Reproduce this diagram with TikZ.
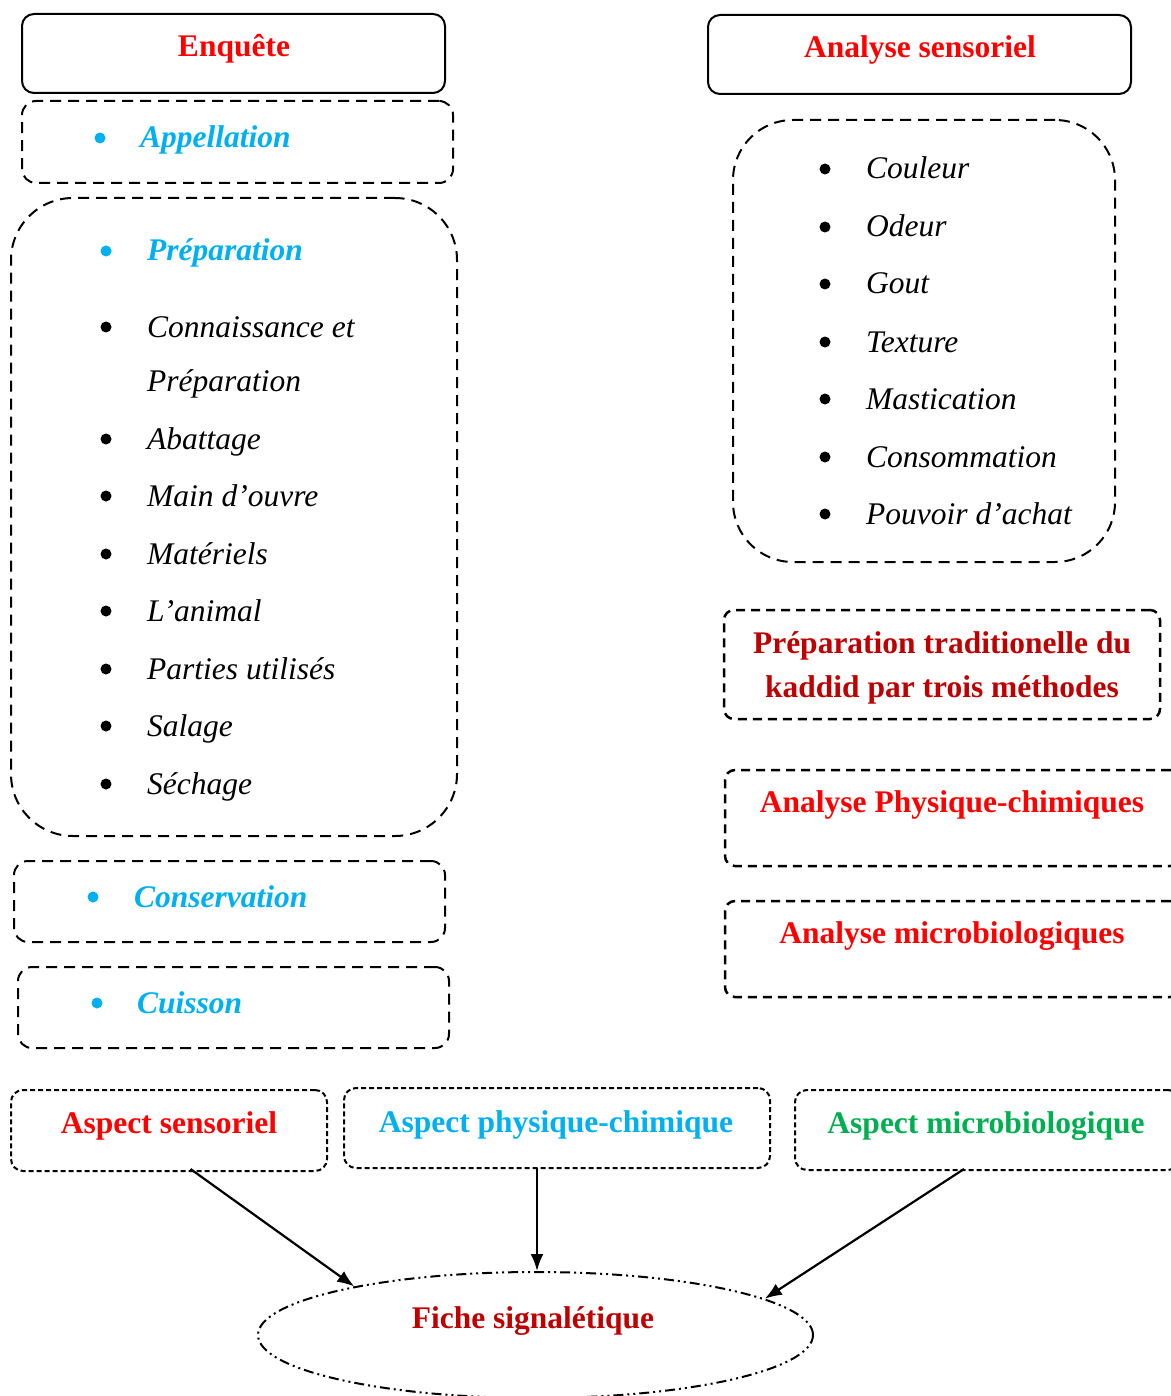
\documentclass[tikz,border=0pt]{standalone}
\usepackage{fontspec}
\setmainfont{Liberation Serif}
\usetikzlibrary{arrows.meta,calc,shapes.geometric}
\definecolor{cred}{HTML}{FF0000}
\definecolor{ccyan}{HTML}{00B0F0}
\definecolor{cdred}{HTML}{C00000}
\definecolor{cgreen}{HTML}{00B050}
\begin{document}
\begin{tikzpicture}[x=1pt,y=-1pt,
  every node/.style={font=\fontsize{31.5}{44}\selectfont, inner sep=0pt},
  solidbox/.style={draw, line width=2pt, rounded corners=12pt},
  dashbox/.style={draw, line width=2pt, rounded corners=14pt, dash pattern=on 11pt off 7pt},
  bigbox/.style={draw, line width=2pt, rounded corners=62pt, dash pattern=on 11pt off 7pt},
  rdashbox/.style={draw, line width=2.5pt, rounded corners=10pt, dash pattern=on 9pt off 6pt},
  sdashbox/.style={draw, line width=2pt, rounded corners=12pt, dash pattern=on 5pt off 3pt},
  fiche/.style={draw, ellipse, line width=2pt, dash pattern=on 10pt off 4pt on 2pt off 4pt on 2pt off 4pt},
  head/.style={anchor=base, font=\fontsize{31.5}{44}\selectfont\bfseries},
  item/.style={anchor=base west, font=\fontsize{31.5}{44}\selectfont\itshape},
  citem/.style={anchor=base west, text=ccyan, font=\fontsize{31.5}{44}\selectfont\bfseries\itshape},
  blt/.style={circle, fill=black, minimum size=11pt},
  cblt/.style={circle, fill=ccyan, minimum size=11pt},
  arr/.style={line width=2.2pt, -{Latex[length=17pt,width=13pt]}}
]
\useasboundingbox (0,0) rectangle (1170,1396);

% ---- left column ----
\node[solidbox, minimum width=423pt, minimum height=79pt] (enq) at (233.5,53.5) {};
\node[head, text=cred] (tenq) at (234,57) {Enquête};

\node[dashbox, minimum width=431pt, minimum height=82pt] (app) at (237.5,142) {};
\node[cblt] (b0) at (100,138) {};
\node[citem] (tapp) at (140,148) {Appellation};

\node[bigbox, minimum width=446pt, minimum height=638pt] (prep) at (234,517) {};
\node[cblt] (b1) at (106,251) {};
\node[citem] (tprep) at (147,261) {Préparation};
\node[blt] (b2) at (106,327) {};
\node[item] (t2) at (147,337) {Connaissance et};
\node[item] (t2b) at (147,391) {Préparation};
\node[blt] (b3) at (106,439) {};
\node[item] (t3) at (147,449) {Abattage};
\node[blt] (b4) at (106,496) {};
\node[item] (t4) at (147,506) {Main d’ouvre};
\node[blt] (b5) at (106,554) {};
\node[item] (t5) at (147,564) {Matériels};
\node[blt] (b6) at (106,611) {};
\node[item] (t6) at (147,621) {L’animal};
\node[blt] (b7) at (106,669) {};
\node[item] (t7) at (147,679) {Parties utilisés};
\node[blt] (b8) at (106,726) {};
\node[item] (t8) at (147,736) {Salage};
\node[blt] (b9) at (106,784) {};
\node[item] (t9) at (147,794) {Séchage};

\node[dashbox, minimum width=431pt, minimum height=81pt] (cons) at (229.5,901.5) {};
\node[cblt] (b10) at (93,897) {};
\node[citem] (tcons) at (134,907) {Conservation};

\node[dashbox, minimum width=431pt, minimum height=81pt] (cuis) at (233.5,1007.5) {};
\node[cblt] (b11) at (97,1003) {};
\node[citem] (tcuis) at (137,1013) {Cuisson};

% ---- right column ----
\node[solidbox, minimum width=423pt, minimum height=79pt] (ans) at (919.5,54.5) {};
\node[head, text=cred] (tans) at (920,58) {Analyse sensoriel};

\node[bigbox, rounded corners=60pt, minimum width=382pt, minimum height=442pt] (sens) at (924,341) {};
\node[blt] (r1) at (825,169) {};
\node[item] (s1) at (866,179) {Couleur};
\node[blt] (r2) at (825,227) {};
\node[item] (s2) at (866,237) {Odeur};
\node[blt] (r3) at (825,284) {};
\node[item] (s3) at (866,294) {Gout};
\node[blt] (r4) at (825,342) {};
\node[item] (s4) at (866,352) {Texture};
\node[blt] (r5) at (825,399) {};
\node[item] (s5) at (866,409) {Mastication};
\node[blt] (r6) at (825,457) {};
\node[item] (s6) at (866,467) {Consommation};
\node[blt] (r7) at (825,514) {};
\node[item] (s7) at (866,524) {Pouvoir d’achat};

\node[rdashbox, minimum width=436pt, minimum height=109pt] (ptrad) at (942,664.5) {};
\node[head, text=cdred] (tptrad1) at (942,653) {Préparation traditionelle du};
\node[head, text=cdred] (tptrad2) at (942,697) {kaddid par trois méthodes};

\node[rdashbox, minimum width=455pt, minimum height=96pt] (apc) at (952.5,818) {};
\node[head, text=cred] (tapc) at (952,812) {Analyse Physique-chimiques};

\node[rdashbox, minimum width=455pt, minimum height=96pt] (amb) at (952.5,949) {};
\node[head, text=cred] (tamb) at (952,943) {Analyse microbiologiques};

% ---- bottom row ----
\node[sdashbox, minimum width=316pt, minimum height=81pt] (as) at (169,1130.5) {};
\node[head, text=cred] (tas) at (169,1133) {Aspect sensoriel};

\node[sdashbox, minimum width=426pt, minimum height=80pt] (aph) at (557,1128) {};
\node[head, text=ccyan] (taph) at (556,1132) {Aspect physique-chimique};

\node[sdashbox, minimum width=385pt, minimum height=80pt] (am) at (987.5,1130) {};
\node[head, text=cgreen] (tam) at (986,1133) {Aspect microbiologique};

\node[fiche, minimum width=555pt, minimum height=126pt] (fs) at (535.5,1335) {};
\node[head, text=cdred] (tfs) at (533,1328) {Fiche signalétique};

% ---- arrows ----
\draw[arr] ($(as.south)+(21.5,-3)$) -- (fs.165);
\draw[arr] ($(aph.south -| fs.north)+(1.5,-1)$) -- ($(fs.north)+(1.5,0)$);
\draw[arr] ($(am.south)+(-23.5,-2)$) -- (fs.9);
\end{tikzpicture}
\end{document}
